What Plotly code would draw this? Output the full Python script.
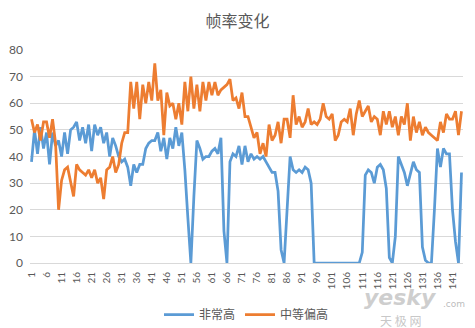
import plotly.graph_objects as go

# Frame indices (1..144) and frame-rate samples for two quality presets
frames = list(range(1, 145))

very_high = [
    38, 50, 41, 51, 43, 49, 37, 49, 44, 46, 40, 49, 41, 50, 51, 53, 46, 51, 45, 52,
    42, 52, 48, 51, 45, 49, 40, 47, 44, 40, 38, 39, 36, 29, 37, 34, 37, 37, 43, 45,
    46, 46, 49, 42, 47, 39, 47, 43, 51, 44, 49, 35, 17, 0, 25, 46, 43, 39, 40, 40,
    42, 43, 41, 47, 12, 0, 38, 41, 40, 44, 37, 44, 38, 41, 39, 40, 39, 40, 38, 36,
    34, 34, 27, 5, 0, 20, 40, 35, 34, 35, 34, 36, 35, 30, 0, 0, 0, 0, 0, 0,
    0, 0, 0, 0, 0, 0, 0, 0, 0, 0, 4, 33, 35, 34, 30, 36, 37, 35, 28, 2,
    0, 10, 40, 37, 34, 29, 33, 38, 35, 34, 6, 1, 0, 0, 20, 43, 36, 43, 41, 41,
    20, 8, 0, 34,
]

medium_high = [
    54, 49, 52, 46, 53, 53, 47, 54, 45, 20, 31, 35, 36, 30, 25, 37, 35, 34, 33, 35,
    32, 35, 30, 32, 24, 35, 36, 40, 34, 37, 45, 49, 49, 68, 58, 68, 54, 67, 60, 68,
    61, 75, 61, 65, 48, 64, 59, 60, 54, 60, 52, 68, 57, 70, 58, 67, 57, 68, 61, 68,
    63, 68, 63, 65, 66, 67, 69, 61, 62, 58, 64, 55, 55, 51, 47, 49, 41, 45, 40, 52,
    46, 48, 53, 45, 54, 54, 47, 63, 52, 55, 51, 53, 58, 52, 53, 52, 54, 60, 55, 54,
    56, 46, 48, 53, 54, 53, 58, 48, 56, 61, 55, 57, 59, 53, 55, 54, 48, 57, 52, 57,
    51, 55, 48, 55, 52, 60, 46, 55, 49, 53, 48, 51, 49, 48, 47, 46, 53, 49, 56, 54,
    54, 57, 48, 57,
]

tick_vals = list(range(1, 145, 5))
tick_text = [str(v) for v in tick_vals]
y_ticks = list(range(0, 81, 10))

series_names = ["非常高", "中等偏高"]
series_colors = ["#5B9BD5", "#ED7D31"]

NUM_FONT = "Lato, 'Noto Sans', sans-serif"
CJK_FONT = "'Noto Sans CJK SC', 'Noto Sans', sans-serif"
GRAY = "#595959"

fig = go.Figure()
for name, vals, color in zip(series_names, [very_high, medium_high], series_colors):
    fig.add_trace(go.Scatter(
        x=frames, y=vals, name=name, mode="lines",
        line=dict(color=color, width=2.75),
    ))

fig.update_layout(
    width=475, height=328,
    margin=dict(l=30, r=12, t=50, b=65, autoexpand=False),
    paper_bgcolor="white", plot_bgcolor="white",
    title=dict(text="帧率变化", x=0.5, xanchor="center", y=0.935, yanchor="middle",
               font=dict(family=CJK_FONT, size=16, color=GRAY)),
    showlegend=True,
    legend=dict(orientation="h", x=0.5, xanchor="center",
                yref="container", y=0.085, yanchor="top",
                font=dict(family=CJK_FONT, size=12, color=GRAY),
                itemwidth=30, tracegroupgap=0, bgcolor="rgba(0,0,0,0)"),
    xaxis=dict(range=[0.5, 144.5], tickmode="array", tickvals=tick_vals,
               ticktext=tick_text, tickangle=-90, showgrid=False, zeroline=False,
               showline=True, linecolor="#d9d9d9", linewidth=1, ticks="",
               ticklabelstandoff=4, automargin=False,
               tickfont=dict(family=NUM_FONT, size=10, color=GRAY)),
    yaxis=dict(range=[0, 80], tickmode="array", tickvals=y_ticks, showgrid=True,
               gridcolor="#d9d9d9", gridwidth=1, zeroline=False, showline=False,
               ticks="", ticklabelstandoff=6, automargin=False,
               tickfont=dict(family=NUM_FONT, size=12, color=GRAY)),
)

# Site watermark in the lower right corner
fig.add_annotation(text="<b><i>yesky</i></b>", xref="paper", yref="paper",
                   x=0.855, y=-0.164, xanchor="center", yanchor="middle", showarrow=False,
                   font=dict(family="'DejaVu Sans', sans-serif", size=22,
                             color="rgba(190,190,190,0.75)"))
fig.add_annotation(text=".com", xref="paper", yref="paper",
                   x=0.949, y=-0.192, xanchor="left", yanchor="middle", showarrow=False,
                   font=dict(family="'DejaVu Sans', sans-serif", size=9,
                             color="rgba(170,170,170,0.8)"))
fig.add_annotation(text="天 极 网", xref="paper", yref="paper",
                   x=0.855, y=-0.268, xanchor="center", yanchor="middle", showarrow=False,
                   font=dict(family=CJK_FONT, size=12, color="rgba(185,185,185,0.8)"))

fig.write_html("out.html")
